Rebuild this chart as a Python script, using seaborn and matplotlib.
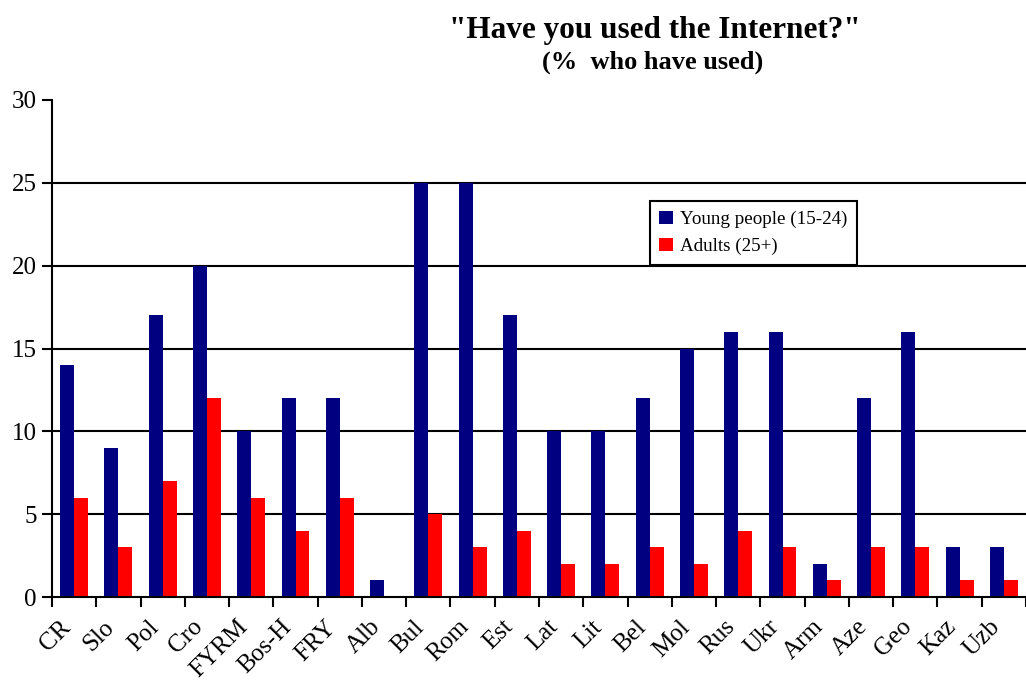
import matplotlib
matplotlib.use("Agg")
import matplotlib.pyplot as plt
import matplotlib.transforms as mtransforms
import seaborn as sns
import pandas as pd
import numpy as np

countries = ["CR", "Slo", "Pol", "Cro", "FYRM", "Bos-H", "FRY", "Alb", "Bul", "Rom", "Est",
             "Lat", "Lit", "Bel", "Mol", "Rus", "Ukr", "Arm", "Aze", "Geo", "Kaz", "Uzb"]
young = [14, 9, 17, 20, 10, 12, 12, 1, 25, 25, 17, 10, 10, 12, 15, 16, 16, 2, 12, 16, 3, 3]
adults = [6, 3, 7, 12, 6, 4, 6, 0, 5, 3, 4, 2, 2, 3, 2, 4, 3, 1, 3, 3, 1, 1]
series_names = ["Young people (15-24)", "Adults (25+)"]
yticks = [0, 5, 10, 15, 20, 25, 30]

df = pd.DataFrame({
    "country": countries * 2,
    "value": young + adults,
    "group": [series_names[0]] * len(countries) + [series_names[1]] * len(countries),
})

sns.set_theme(style="white")
plt.rcParams["font.family"] = ["Liberation Serif", "DejaVu Serif"]
plt.rcParams["text.color"] = "black"
plt.rcParams["xtick.color"] = "black"
plt.rcParams["ytick.color"] = "black"
plt.rcParams["axes.labelcolor"] = "black"

fig = plt.figure(figsize=(10.26, 6.8), dpi=100)
ax = fig.add_axes([0.0507, 0.122, 0.9493, 0.731])

sns.barplot(data=df, x="country", y="value", hue="group", order=countries,
            hue_order=series_names, palette=["#000080", "#ff0000"], width=0.63,
            saturation=1, linewidth=0, ax=ax, legend=True)

ax.set_xlim(-0.5, len(countries) - 0.5)
ax.set_ylim(0, 30)
ax.set_yticks(yticks)
ax.set_yticklabels([str(v) for v in yticks], fontsize=18)
for v in yticks[1:-1]:
    ax.axhline(v, color="black", lw=1.5, zorder=0)

ax.set_xticks(range(len(countries)))
ax.set_xticklabels(countries, rotation=45, ha="right", rotation_mode="anchor", fontsize=18)
ax.set_xticks(np.arange(-0.5, len(countries), 1.0), minor=True)
ax.tick_params(axis="x", which="major", length=0, pad=10)
ax.tick_params(axis="x", which="minor", length=7, width=1.5, direction="out", color="black", bottom=True)
ax.tick_params(axis="y", which="major", length=7, width=1.5, direction="out", color="black", left=True, pad=4)
offset = mtransforms.ScaledTranslation(-15 / 100, -5 / 100, fig.dpi_scale_trans)
for lbl in ax.get_xticklabels():
    lbl.set_transform(lbl.get_transform() + offset)

ax.set_xlabel("")
ax.set_ylabel("")
for s in ["top", "right"]:
    ax.spines[s].set_visible(False)
for s in ["left", "bottom"]:
    ax.spines[s].set_color("black")
    ax.spines[s].set_linewidth(1.5)

leg = ax.legend(loc="upper left", bbox_to_anchor=(0.604, 0.815), fontsize=13.7,
                frameon=True, fancybox=False, edgecolor="black", handlelength=0.7,
                handleheight=0.7, handletextpad=0.4, borderpad=0.5, labelspacing=0.5)
leg.get_frame().set_linewidth(1.5)
leg.get_frame().set_alpha(1)

fig.text(0.638, 0.955, '"Have you used the Internet?"', ha="center", va="center",
         fontsize=22.5, fontweight="bold")
fig.text(0.636, 0.909, "(%  who have used)", ha="center", va="center",
         fontsize=19, fontweight="bold")

fig.savefig("out.png", dpi=100)
